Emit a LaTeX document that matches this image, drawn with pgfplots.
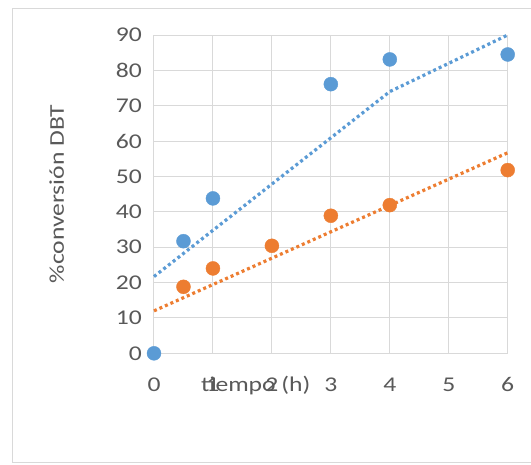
\documentclass[border=0pt]{standalone}
\usepackage{pgfplots}
\pgfplotsset{compat=1.18}
\usepackage{fontspec}
\setmainfont[FakeStretch=1.22]{Carlito}
\definecolor{xlblue}{RGB}{91,155,213}
\definecolor{xlorange}{RGB}{237,125,49}
\definecolor{gridgray}{RGB}{217,217,217}
\definecolor{textgray}{RGB}{89,89,89}
\begin{document}
\begin{tikzpicture}[x=1pt,y=1pt]
\path[use as bounding box] (0,0) rectangle (531,-464);
\draw[gridgray,line width=1pt] (531,-8.5) -- (12,-8.5) -- (12,-462.5) -- (531,-462.5);
\begin{axis}[
  at={(154pt,-353.3pt)}, anchor=south west,
  scale only axis, width=353.7pt, height=318.3pt,
  xmin=0, xmax=6, ymin=0, ymax=90,
  xtick={0,1,2,3,4,5,6}, ytick={0,10,...,90},
  grid=major, grid style={gridgray,line width=1pt},
  axis line style={draw=none},
  major tick length=0pt,
  clip=false,
  font=\fontsize{21}{24}\selectfont,
  /pgf/number format/assume math mode=true,
  ticklabel style={text=textgray},
  yticklabel style={anchor=east, inner sep=0pt, xshift=-12pt},
  xticklabel style={anchor=base, inner sep=0pt, yshift=-38.4pt},
  xlabel={tiempo (h)},
  xlabel style={at={(axis description cs:0.288,0)}, anchor=base, yshift=-38.4pt, text=textgray, inner sep=0pt},
  ylabel={\%conversión DBT},
  ylabel style={at={(axis description cs:-0.275,0.5)}, anchor=center, rotate=0, text=textgray, inner sep=0pt},
]
\addplot[only marks, mark=*, mark size=7pt, color=xlblue] coordinates {
  (0,0) (0.5,31.7) (1,43.8) (3,76.1) (4,83.1) (6,84.5)
};
\addplot[only marks, mark=*, mark size=7pt, color=xlorange] coordinates {
  (0.5,18.8) (1,24.0) (2,30.4) (3,38.9) (4,41.9) (6,51.8)
};
\addplot[xlblue, line width=3.2pt, dash pattern=on 3pt off 3pt] coordinates {
  (0,21.7) (4,74.0) (6,90)
};
\addplot[xlorange, line width=3.2pt, dash pattern=on 3pt off 3pt] coordinates {
  (0,12.0) (6,56.7)
};
\end{axis}
\end{tikzpicture}
\end{document}
